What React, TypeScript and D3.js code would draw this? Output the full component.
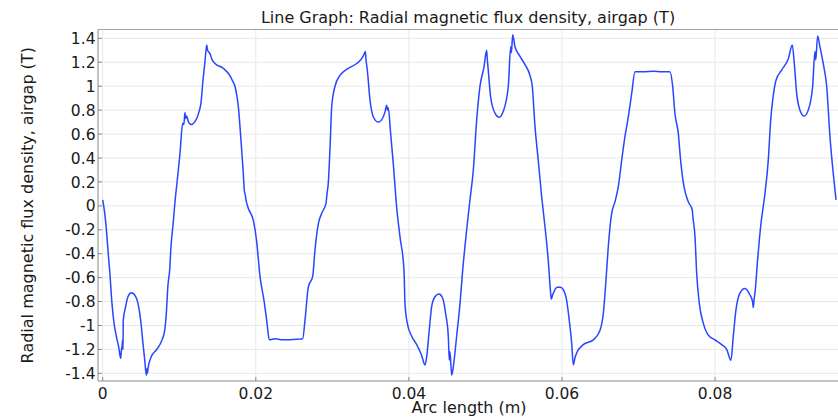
import React, { useEffect, useRef } from "react";
import * as d3 from "d3";

// Arc length in mm (converted to m when drawn)
const arcLengthMM: number[] = [
  0, 0.3, 0.52, 0.75, 0.91, 1.21, 1.48, 1.78, 2.09, 2.35,
  2.45, 2.52, 2.61, 2.65, 2.69, 2.95, 3.3, 3.74, 4.18, 4.61,
  4.96, 5.26, 5.49, 5.7, 5.8, 5.85, 5.92, 6.35, 7.0, 7.65,
  8.1, 8.31, 8.53, 8.75, 8.92, 9.2, 9.44, 9.75, 10.1, 10.45,
  10.6, 10.75, 10.85, 10.97, 11.2, 11.6, 12.0, 12.28, 12.6, 12.84,
  13.1, 13.28, 13.35, 13.59, 13.7, 14.0, 14.3, 14.67, 15.75, 16.6,
  17.0, 17.28, 17.5, 17.72, 18.03, 18.37, 18.5, 18.6, 18.72, 19.02,
  19.67, 20.1, 20.55, 21.07, 21.42, 21.77, 22.5, 23.5, 24.5, 25.5,
  26.13, 26.43, 26.86, 27.43, 27.73, 28.17, 28.6, 29.17, 29.3, 29.47,
  29.7, 29.92, 30.35, 31.0, 31.87, 33.18, 33.83, 34.1, 34.31, 34.4,
  34.57, 34.92, 35.35, 36.0, 36.66, 36.9, 37.1, 37.2, 37.3, 37.61,
  37.96, 38.4, 38.84, 39.36, 39.49, 39.79, 40.37, 41.02, 41.67, 42.1,
  42.33, 42.66, 42.98, 43.41, 43.93, 44.41, 44.8, 45.15, 45.28, 45.37,
  45.59, 45.8, 46.24, 46.68, 47.03, 47.55, 47.98, 48.42, 48.86, 49.29,
  49.81, 50.16, 50.25, 50.37, 50.68, 51.25, 51.81, 52.33, 52.99, 53.3,
  53.4, 53.56, 53.86, 54.51, 55.17, 55.82, 56.12, 56.48, 56.9, 57.35,
  57.78, 58.2, 58.52, 58.6, 58.78, 59.39, 59.8, 60.17, 60.61, 60.95,
  61.27, 61.48, 61.7, 61.92, 62.79, 64.1, 64.97, 65.4, 65.75, 66.05,
  66.49, 66.93, 67.36, 67.8, 68.23, 68.67, 69.11, 69.54, 70.63, 72.0,
  73.0, 74.1, 74.46, 74.76, 75.19, 75.5, 75.94, 76.5, 77.02, 77.1,
  77.38, 77.6, 77.94, 78.46, 79.11, 79.99, 80.86, 81.52, 82.08, 82.38,
  82.73, 83.25, 83.9, 84.56, 84.9, 84.99, 85.1, 85.21, 85.56, 85.95,
  86.52, 86.95, 87.27, 87.53, 87.96, 88.7, 89.57, 90.09, 90.35, 90.66,
  91.09, 91.65, 92.17, 92.75, 93.05, 93.15, 93.4, 93.7, 94.13, 94.58,
  95.01, 95.44, 95.8,
];

// Radial magnetic flux density, airgap (T)
const fluxDensity: number[] = [
  0.05, -0.08, -0.23, -0.42, -0.54, -0.815, -0.98, -1.09, -1.18, -1.275,
  -1.2, -1.18, -1.12, -1.2, -0.955, -0.857, -0.76, -0.727, -0.745, -0.815,
  -0.955, -1.15, -1.29, -1.415, -1.36, -1.4, -1.36, -1.26, -1.205, -1.136,
  -1.04, -0.9, -0.66, -0.537, -0.34, -0.15, 0.03, 0.22, 0.44, 0.69,
  0.68, 0.78, 0.73, 0.75, 0.7, 0.68, 0.7, 0.73, 0.79, 0.86,
  1.05, 1.16, 1.2, 1.345, 1.3, 1.275, 1.22, 1.19, 1.15, 1.09,
  1.04, 1.0, 0.93, 0.83, 0.58, 0.27, 0.13, 0.1, 0.05, -0.02,
  -0.12, -0.29, -0.59, -0.79, -0.955, -1.12, -1.11, -1.12, -1.12, -1.115,
  -1.11, -0.955, -0.68, -0.59, -0.37, -0.15, -0.063, 0.02, 0.1, 0.19,
  0.49, 0.83, 1.0, 1.09, 1.14, 1.19, 1.23, 1.26, 1.29, 1.22,
  1.135, 0.885, 0.745, 0.7, 0.745, 0.79, 0.84, 0.8, 0.82, 0.61,
  0.355, -0.01, -0.26, -0.537, -0.815, -0.98, -1.09, -1.16, -1.25, -1.33,
  -1.26, -1.04, -0.84, -0.76, -0.737, -0.77, -0.9, -1.09, -1.29, -1.22,
  -1.415, -1.345, -1.09, -0.815, -0.537, -0.2, 0.05, 0.3, 0.72, 1.0,
  1.16, 1.3, 1.22, 1.135, 0.91, 0.775, 0.74, 0.79, 1.0, 1.33,
  1.28, 1.43, 1.33, 1.25, 1.18, 1.09, 1.0, 0.66, 0.38, 0.076,
  -0.175, -0.45, -0.73, -0.78, -0.745, -0.68, -0.68, -0.7, -0.79, -0.955,
  -1.15, -1.33, -1.27, -1.23, -1.16, -1.12, -1.04, -0.9, -0.62, -0.34,
  -0.063, 0.035, 0.16, 0.38, 0.58, 0.745, 0.94, 1.12, 1.12, 1.125,
  1.12, 1.12, 1.0, 0.77, 0.61, 0.38, 0.16, 0.035, -0.035, -0.09,
  -0.26, -0.565, -0.815, -0.98, -1.08, -1.12, -1.16, -1.2, -1.29, -1.09,
  -0.87, -0.73, -0.69, -0.745, -0.8, -0.85, -0.78, -0.73, -0.45, -0.175,
  0.105, 0.38, 0.72, 0.885, 1.05, 1.135, 1.23, 1.345, 1.19, 0.94,
  0.8, 0.75, 0.8, 1.0, 1.29, 1.22, 1.42, 1.33, 1.19, 1.0,
  0.58, 0.27, 0.05,
];

const xTicks: number[] = [0, 0.02, 0.04, 0.06, 0.08];
const xTickLabels: string[] = ["0", "0.02", "0.04", "0.06", "0.08"];
const yTicks: number[] = [-1.4, -1.2, -1, -0.8, -0.6, -0.4, -0.2, 0, 0.2, 0.4, 0.6, 0.8, 1, 1.2, 1.4];
const yTickLabels: string[] = ["-1.4", "-1.2", "-1", "-0.8", "-0.6", "-0.4", "-0.2", "0", "0.2", "0.4", "0.6", "0.8", "1", "1.2", "1.4"];

const titleText = "Line Graph: Radial magnetic flux density, airgap (T)";
const xLabel = "Arc length (m)";
const yLabel = "Radial magnetic flux density, airgap (T)";

const W = 838;
const H = 418;
const M = { left: 98, right: 838, top: 29.5, bottom: 381 };
const FONT = "'DejaVu Sans', sans-serif";

export default function App() {
  const ref = useRef<SVGSVGElement>(null);

  useEffect(() => {
    document.body.style.margin = "0";
    const svg = d3.select(ref.current);
    svg.selectAll("*").remove();

    const x = d3.scaleLinear().domain([-0.000614, 0.09606]).range([M.left, M.right]);
    const y = d3.scaleLinear().domain([-1.464, 1.474]).range([M.bottom, M.top]);

    svg.append("rect").attr("width", W).attr("height", H).attr("fill", "#ffffff");

    const grid = svg.append("g");
    xTicks.forEach((t) => {
      grid.append("line")
        .attr("x1", x(t)).attr("x2", x(t))
        .attr("y1", M.top).attr("y2", M.bottom)
        .attr("stroke", "#e8e8e8").attr("stroke-width", 1);
    });
    yTicks.forEach((t) => {
      grid.append("line")
        .attr("x1", M.left).attr("x2", M.right)
        .attr("y1", y(t)).attr("y2", y(t))
        .attr("stroke", "#e8e8e8").attr("stroke-width", 1);
    });

    // frame
    svg.append("line").attr("x1", M.left).attr("x2", M.right).attr("y1", M.top).attr("y2", M.top)
      .attr("stroke", "#a0a0a0").attr("stroke-width", 1);
    svg.append("line").attr("x1", M.left).attr("x2", M.right).attr("y1", M.bottom).attr("y2", M.bottom)
      .attr("stroke", "#8a8a8a").attr("stroke-width", 1);
    svg.append("line").attr("x1", M.left).attr("x2", M.left).attr("y1", M.top).attr("y2", M.bottom)
      .attr("stroke", "#8a8a8a").attr("stroke-width", 1);

    // ticks and tick labels
    xTicks.forEach((t, i) => {
      svg.append("line").attr("x1", x(t)).attr("x2", x(t)).attr("y1", M.bottom).attr("y2", M.bottom - 4)
        .attr("stroke", "#8a8a8a");
      svg.append("text").attr("x", x(t)).attr("y", 398.5)
        .attr("text-anchor", "middle").attr("font-family", FONT).attr("font-size", 15.5)
        .attr("fill", "#1a1a1a").text(xTickLabels[i]);
    });
    yTicks.forEach((t, i) => {
      svg.append("line").attr("x1", M.left).attr("x2", M.left + 4).attr("y1", y(t)).attr("y2", y(t))
        .attr("stroke", "#8a8a8a");
      svg.append("text").attr("x", 95.5).attr("y", y(t)).attr("dy", "0.36em")
        .attr("text-anchor", "end").attr("font-family", FONT).attr("font-size", 15.5)
        .attr("fill", "#1a1a1a").text(yTickLabels[i]);
    });

    const data = arcLengthMM.map((a, i) => [a / 1000, fluxDensity[i]] as [number, number]);
    const line = d3.line<[number, number]>()
      .x((d) => x(d[0])).y((d) => y(d[1]))
      .curve(d3.curveMonotoneX);
    svg.append("path").datum(data).attr("d", line).attr("fill", "none")
      .attr("stroke", "#2846ff").attr("stroke-width", 1.5).attr("stroke-linejoin", "round");

    svg.append("text").attr("x", (M.left + M.right) / 2).attr("y", 23)
      .attr("text-anchor", "middle").attr("font-family", FONT).attr("font-size", 16)
      .attr("fill", "#1a1a1a").text(titleText);
    svg.append("text").attr("x", 469).attr("y", 413)
      .attr("text-anchor", "middle").attr("font-family", FONT).attr("font-size", 16)
      .attr("fill", "#1a1a1a").text(xLabel);
    svg.append("text").attr("transform", `translate(32.5,${(M.top + M.bottom) / 2}) rotate(-90)`)
      .attr("text-anchor", "middle").attr("font-family", FONT).attr("font-size", 16)
      .attr("fill", "#1a1a1a").text(yLabel);
  }, []);

  return (
    <svg ref={ref} width={W} height={H} style={{ position: "absolute", left: 0, top: 0, display: "block" }} />
  );
}
